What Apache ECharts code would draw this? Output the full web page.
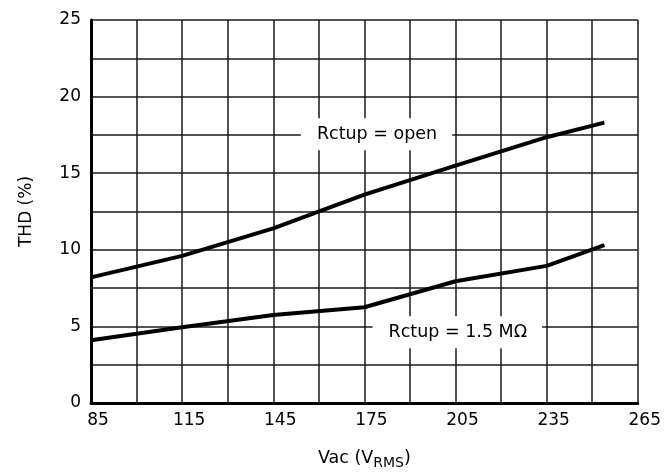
<!DOCTYPE html>
<html>
<head>
<meta charset="utf-8">
<script src="https://cdn.jsdelivr.net/npm/echarts@6/dist/echarts.min.js"></script>
<style>
html,body{margin:0;padding:0;background:#fff;}
#c{width:664px;height:475px;}
</style>
</head>
<body>
<div id="c"></div>
<script>
const vac = [85, 115, 145, 175, 205, 235, 254];
const thdOpen = [8.2, 9.6, 11.4, 13.6, 15.5, 17.35, 18.3];
const thd15M = [4.1, 4.95, 5.75, 6.25, 7.95, 8.95, 10.3];
const labelOpen = 'Rctup = open';
const label15M = 'Rctup = 1.5 MΩ';
const xTicks = [85, 115, 145, 175, 205, 235, 265];
const yTicks = [0, 5, 10, 15, 20, 25];

const chart = echarts.init(document.getElementById('c'), null, {renderer: 'canvas'});
const font = '"DejaVu Sans", Verdana, sans-serif';
const lineCol = '#1a1a1a';
function pairs(xs, ys){ return xs.map((x, i) => [x, ys[i]]); }
function annot(text, coord){
  return {
    symbol: 'rect',
    symbolSize: 1,
    silent: true,
    itemStyle: {color: 'rgba(0,0,0,0)'},
    data: [{coord: coord, value: 0}],
    label: {
      show: true, position: 'inside', formatter: text,
      color: '#000', fontFamily: font, fontSize: 17.5,
      backgroundColor: '#fff', padding: [7, 15, 7, 16]
    }
  };
}
chart.setOption({
  animation: false,
  backgroundColor: '#fff',
  grid: {left: 91, right: 25, top: 20, bottom: 71, containLabel: false},
  xAxis: {
    type: 'value', min: xTicks[0], max: xTicks[xTicks.length - 1], interval: 30,
    axisLine: {show: true, onZero: false, lineStyle: {color: '#000', width: 3}},
    axisTick: {show: false},
    splitLine: {show: true, lineStyle: {color: lineCol, width: 1.5}},
    minorTick: {show: false, splitNumber: 2},
    minorSplitLine: {show: true, lineStyle: {color: lineCol, width: 1.5}},
    axisLabel: {color: '#000', fontFamily: font, fontSize: 17, margin: 9, padding: [0, 0, 0, 14]},
    name: '{a|Vac (V}{s|RMS}{a|)}',
    nameLocation: 'middle', nameGap: 44,
    nameTextStyle: {
      rich: {
        a: {fontFamily: font, fontSize: 17.5, color: '#000'},
        s: {fontFamily: font, fontSize: 14, color: '#000', verticalAlign: 'bottom', padding: [9, 0, 0, 0]}
      }
    }
  },
  yAxis: {
    type: 'value', min: yTicks[0], max: yTicks[yTicks.length - 1], interval: 5,
    axisLine: {show: true, onZero: false, lineStyle: {color: '#000', width: 3}},
    axisTick: {show: false},
    splitLine: {show: true, lineStyle: {color: lineCol, width: 1.5}},
    minorTick: {show: false, splitNumber: 2},
    minorSplitLine: {show: true, lineStyle: {color: lineCol, width: 1.5}},
    axisLabel: {color: '#000', fontFamily: font, fontSize: 17, margin: 10, padding: [0, 0, 12, 0]},
    name: 'THD (%)', nameLocation: 'middle', nameGap: 56,
    nameTextStyle: {fontFamily: font, fontSize: 17, color: '#000'}
  },
  series: [
    {
      type: 'line', data: pairs(vac, thdOpen), symbol: 'none',
      lineStyle: {color: '#000', width: 4}, z: 3,
      markPoint: annot(labelOpen, [179, 17.55])
    },
    {
      type: 'line', data: pairs(vac, thd15M), symbol: 'none',
      lineStyle: {color: '#000', width: 4}, z: 3,
      markPoint: annot(label15M, [205.6, 4.62])
    }
  ]
});
</script>
</body>
</html>
